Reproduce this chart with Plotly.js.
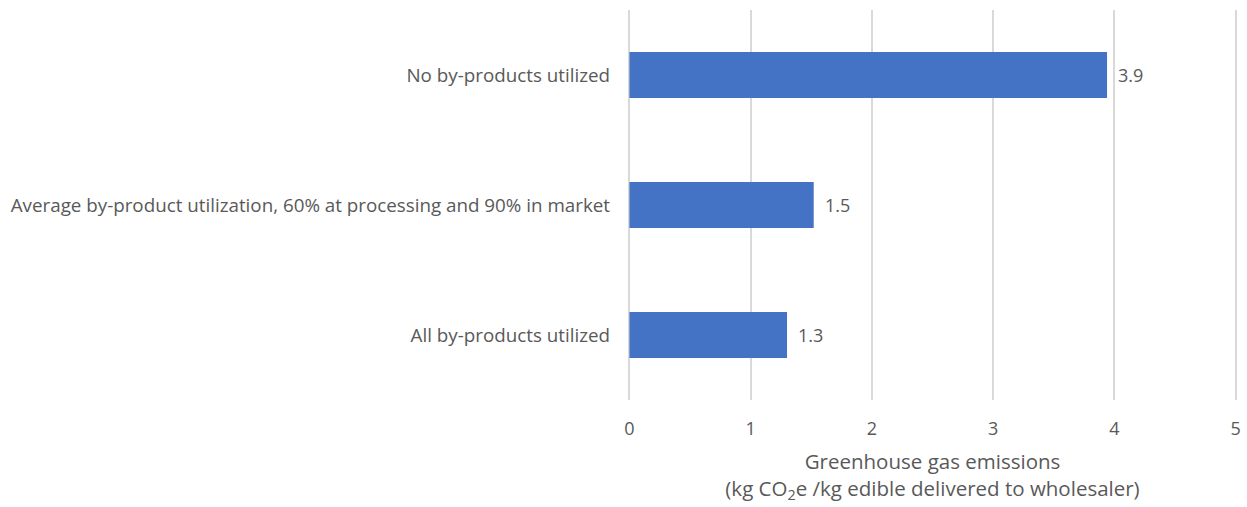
<!DOCTYPE html>
<html>
<head>
<meta charset="utf-8">
<script src="https://cdn.plot.ly/plotly-3.0.1.min.js"></script>
<style>html,body{margin:0;padding:0;background:#fff;}#chart{width:1247px;height:507px;}</style>
</head>
<body>
<div id="chart"></div>
<script>
const categories = ["No by-products utilized", "Average by-product utilization, 60% at processing and 90% in market", "All by-products utilized"];
const emissions = [3.94, 1.52, 1.30];
const xTicks = [0, 1, 2, 3, 4, 5];

const fontFamily = "Open Sans, Liberation Sans, sans-serif";
const gray = "#595959";

const trace = {
  type: "bar",
  orientation: "h",
  y: categories,
  x: emissions,
  marker: {color: "#4472C4"},
  width: 0.354,
  hoverinfo: "skip"
};

const annotations = categories.map((c, i) => ({
  x: emissions[i], y: c, xref: "x", yref: "y",
  text: emissions[i].toFixed(1), showarrow: false,
  xanchor: "left", xshift: 9,
  font: {family: fontFamily, size: 18, color: gray}
}));

const layout = {
  width: 1247, height: 507,
  margin: {l: 628, r: 10, t: 10, b: 107},
  paper_bgcolor: "#fff", plot_bgcolor: "#fff",
  showlegend: false,
  font: {family: fontFamily, color: gray, size: 18},
  xaxis: {
    range: [-0.012, 5.012], tickvals: xTicks, ticktext: xTicks.map(String),
    showgrid: true, gridcolor: "#d9d9d9", gridwidth: 2,
    zeroline: true, zerolinecolor: "#d9d9d9", zerolinewidth: 2,
    showline: false, ticks: "",
    ticklabelstandoff: 16,
    tickfont: {family: fontFamily, size: 18, color: gray},
    title: {text: "Greenhouse gas emissions<br>(kg CO<sub>2</sub>e /kg edible delivered to wholesaler)",
            font: {family: fontFamily, size: 20.5, color: gray}, standoff: 15}
  },
  yaxis: {
    autorange: "reversed", showgrid: false, zeroline: false, showline: false, ticks: "",
    ticklabelstandoff: 17,
    tickfont: {family: fontFamily, size: 18.8, color: gray}
  },
  annotations: annotations
};

Plotly.newPlot("chart", [trace], layout, {displayModeBar: false, staticPlot: true});
</script>
</body>
</html>
